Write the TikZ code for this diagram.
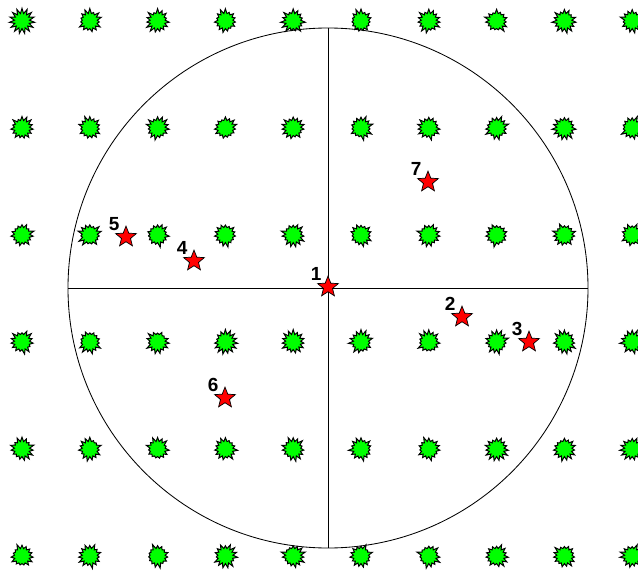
\documentclass[tikz,border=0pt]{standalone}
\usepackage{fontspec}
\setmainfont{Liberation Sans}
\usetikzlibrary{shapes.geometric,shapes.symbols}
\definecolor{burst}{RGB}{0,255,0}
\definecolor{starred}{RGB}{255,0,0}

\begin{document}
\begin{tikzpicture}[x=0.025cm, y=-0.025cm,
  every node/.style={font=\bfseries},
  b/.style={starburst,starburst points=15,starburst point height=3.6pt,random starburst=#1,
    draw=black,fill=burst,minimum size=18pt,inner sep=0pt,line width=0.7pt},
  s/.style={star,star points=5,star point ratio=2.3,draw=black,fill=starred,
    minimum size=15.5pt,inner sep=0pt,line width=0.5pt},
  lbl/.style={font=\bfseries\fontsize{13.5}{13.5}\selectfont,inner sep=0.5pt},
  l/.style={line width=0.6pt}]
  \useasboundingbox (0,0) rectangle (638,571);
  % the circle with its two axes
  \coordinate (c) at (328,288);
  \draw[l] (c) circle[radius=260];
  \coordinate (w) at (68,288);
  \coordinate (e) at (588,288);
  \coordinate (n) at (328,28);
  \coordinate (s) at (328,548);
  \draw[l] (w) -- (e);
  \draw[l] (n) -- (s);
  % grid of bursts
  \foreach \i in {0,...,9}
    \foreach \j in {0,...,5}
      \node[b=\i\j] (g\i\j) at ({22+67.8*\i},{21+107*\j}) {};
  % the stars
  \node[s,label={[lbl,label distance=1.5pt]135:1}] (s1) at (328,287) {};
  \node[s,label={[lbl,label distance=1.5pt]135:2}] (s2) at (462,317) {};
  \node[s,label={[lbl,label distance=1.5pt]135:3}] (s3) at (529,342) {};
  \node[s,label={[lbl,label distance=1.5pt]135:4}] (s4) at (194,261) {};
  \node[s,label={[lbl,label distance=1.5pt]135:5}] (s5) at (126,237) {};
  \node[s,label={[lbl,label distance=1.5pt]135:6}] (s6) at (225,398) {};
  \node[s,label={[lbl,label distance=1.5pt]135:7}] (s7) at (428,182) {};
\end{tikzpicture}
\end{document}
